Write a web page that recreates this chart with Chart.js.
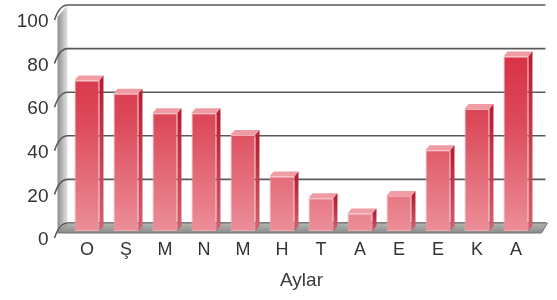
<!DOCTYPE html>
<html>
<head>
<meta charset="utf-8">
<script src="https://cdn.jsdelivr.net/npm/chart.js@4.4.1/dist/chart.umd.min.js"></script>
<style>
  html, body { margin: 0; padding: 0; background: #fff; }
  #wrap { width: 557px; height: 300px; }
</style>
</head>
<body>
<div id="wrap"><canvas id="chart"></canvas></div>
<script>
// data
const months = ['O', 'Ş', 'M', 'N', 'M', 'H', 'T', 'A', 'E', 'E', 'K', 'A'];
const values = [69, 63, 54, 54, 44, 25, 15, 8, 16, 37, 56, 80];
const yTicks = [0, 20, 40, 60, 80, 100];
const xTitle = 'Aylar';

// 3d depth of the wall/floor and of each bar
const DEPTH_X = 10, DEPTH_Y = 8;
const BAR_DX = 4, BAR_DY = 5;

const scene3d = {
    id: 'scene3d',
    beforeDatasetsDraw(chart) {
        const { ctx, chartArea: a, scales: { y } } = chart;
        const y0 = y.getPixelForValue(0);
        const yTop = y.getPixelForValue(100);

        // left wall
        ctx.save();
        const wg = ctx.createLinearGradient(a.left - DEPTH_X, 0, a.left, 0);
        wg.addColorStop(0, '#8c8e8c');
        wg.addColorStop(0.5, '#b8bab8');
        wg.addColorStop(1, '#e4e4e4');
        ctx.fillStyle = wg;
        ctx.beginPath();
        ctx.moveTo(a.left - DEPTH_X, yTop + 4);
        ctx.lineTo(a.left, yTop - DEPTH_Y);
        ctx.lineTo(a.left, y0 - DEPTH_Y);
        ctx.lineTo(a.left - DEPTH_X, y0 + 2);
        ctx.closePath();
        ctx.fill();

        // grid lines on the back wall + stubs to the labels
        ctx.strokeStyle = '#5a5a5a';
        ctx.lineWidth = 1.6;
        yTicks.forEach(v => {
            const yv = y.getPixelForValue(v);
            ctx.beginPath();
            ctx.moveTo(a.left - DEPTH_X - 3, yv + 7);
            ctx.quadraticCurveTo(a.left - DEPTH_X + 2, yv - DEPTH_Y, a.left, yv - DEPTH_Y);
            ctx.lineTo(a.right + DEPTH_X, yv - DEPTH_Y);
            ctx.stroke();
        });

        // floor
        const fg = ctx.createLinearGradient(0, y0 - DEPTH_Y, 0, y0 + 2);
        fg.addColorStop(0, '#b4b6b4');
        fg.addColorStop(1, '#8a8c8a');
        ctx.fillStyle = fg;
        ctx.beginPath();
        ctx.moveTo(a.left, y0 - DEPTH_Y);
        ctx.lineTo(a.right + DEPTH_X + 2, y0 - DEPTH_Y);
        ctx.lineTo(a.right + DEPTH_X - 4, y0 + 2);
        ctx.lineTo(a.left - DEPTH_X, y0 + 2);
        ctx.closePath();
        ctx.fill();
        ctx.strokeStyle = '#707270';
        ctx.lineWidth = 1;
        ctx.stroke();
        ctx.restore();
    },
    afterDatasetsDraw(chart) {
        const { ctx } = chart;
        const meta = chart.getDatasetMeta(0);
        ctx.save();
        meta.data.forEach(bar => {
            const { x, y, base, width } = bar.getProps(['x', 'y', 'base', 'width'], true);
            const l = x - width / 2, r = x + width / 2;
            // top face
            ctx.fillStyle = '#ef9ca5';
            ctx.beginPath();
            ctx.moveTo(l, y);
            ctx.lineTo(l + BAR_DX, y - BAR_DY);
            ctx.lineTo(r + BAR_DX, y - BAR_DY);
            ctx.lineTo(r, y);
            ctx.closePath();
            ctx.fill();
            // right side
            const sg = ctx.createLinearGradient(0, y, 0, base);
            sg.addColorStop(0, '#b61e32');
            sg.addColorStop(1, '#d46070');
            ctx.fillStyle = sg;
            ctx.beginPath();
            ctx.moveTo(r, y);
            ctx.lineTo(r + BAR_DX, y - BAR_DY);
            ctx.lineTo(r + BAR_DX, base - BAR_DY);
            ctx.lineTo(r, base);
            ctx.closePath();
            ctx.fill();
        });
        ctx.restore();
    }
};

function frontFill(context) {
    const { chart } = context;
    const a = chart.chartArea;
    if (!a) return '#d83444';
    const g = chart.ctx.createLinearGradient(0, a.top, 0, a.bottom);
    g.addColorStop(0, '#d42238');
    g.addColorStop(0.5, '#dc4a5a');
    g.addColorStop(1, '#ec8e98');
    return g;
}

new Chart(document.getElementById('chart'), {
    type: 'bar',
    data: {
        labels: months,
        datasets: [{
            data: values,
            backgroundColor: frontFill,
            borderColor: '#f2a8b0',
            borderWidth: 1,
            borderSkipped: false,
            categoryPercentage: 1,
            barPercentage: 0.64
        }]
    },
    options: {
        responsive: true,
        maintainAspectRatio: false,
        animation: false,
        layout: { padding: { left: 13, right: 21.5, top: 13, bottom: 0 } },
        plugins: { legend: { display: false }, tooltip: { enabled: false } },
        scales: {
            x: {
                grid: { display: false, drawTicks: false },
                border: { display: false },
                ticks: { color: '#333', padding: 8, font: { family: 'Liberation Sans', size: 18 } },
                title: {
                    display: true,
                    text: xTitle,
                    color: '#3a3a3a',
                    font: { family: 'Liberation Sans', size: 19 },
                    padding: { top: 0, bottom: 8 }
                },
                afterFit(scale) {
                    scale.height = 69;
                    scale.paddingLeft = 0;
                    scale.paddingRight = 0;
                }
            },
            y: {
                min: 0,
                max: 100,
                grid: { display: false, drawTicks: false },
                border: { display: false },
                afterBuildTicks(scale) { scale.ticks = yTicks.map(v => ({ value: v })); },
                ticks: {
                    color: '#333',
                    padding: 19,
                    labelOffset: 9,
                    font: { family: 'Liberation Sans', size: 19 }
                },
                afterFit(scale) {
                    scale.width = 54.5;
                    scale.paddingTop = 0;
                    scale.paddingBottom = 0;
                }
            }
        }
    },
    plugins: [scene3d]
});
</script>
</body>
</html>
